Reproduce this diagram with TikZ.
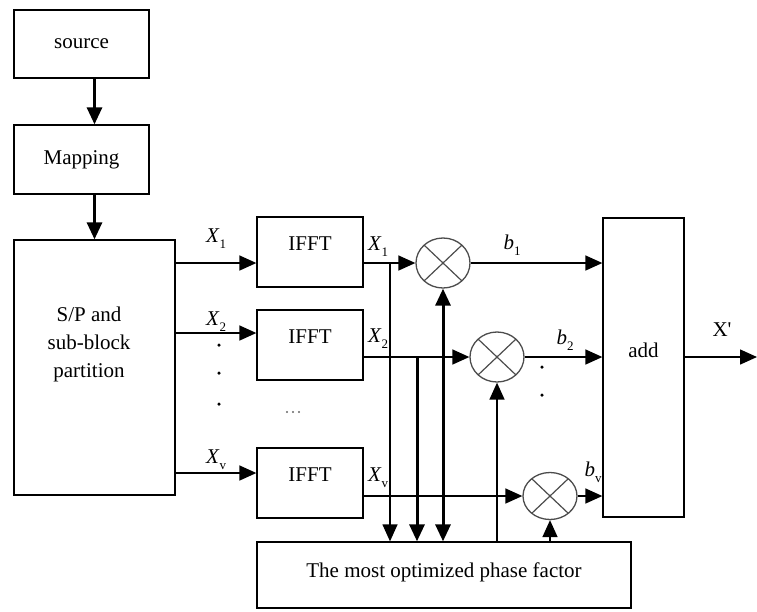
\documentclass[tikz,border=0pt]{standalone}
\usepackage{fontspec}
\setmainfont{Liberation Serif}
\usetikzlibrary{arrows.meta,shapes.geometric,positioning}
\tikzset{
  >={Triangle[length=17pt,width=15pt]},
  block/.style={draw, line width=1.3pt, rectangle, inner sep=0pt, font=\fontsize{21}{27}\selectfont},
  ifft/.style={block, minimum width=106pt, minimum height=70pt, text height=14pt, text depth=18pt},
  mult/.style={draw=black!70, line width=1.3pt, ellipse, inner sep=0pt,
    minimum width=54pt, minimum height=50pt,
    path picture={\draw[black!70, line width=1.2pt]
      ([shift={(-19pt,-18pt)}]path picture bounding box.center) -- ([shift={(19pt,18pt)}]path picture bounding box.center)
      ([shift={(-19pt,18pt)}]path picture bounding box.center) -- ([shift={(19pt,-18pt)}]path picture bounding box.center);}},
  wire/.style={line width=1.5pt},
  bus/.style={line width=3pt},
  lab/.style={inner sep=0pt, font=\fontsize{21}{28}\selectfont},
  dotmark/.style={circle, fill, inner sep=0pt, minimum size=3.5pt},
}
\newcommand{\varlab}[2]{\textit{#1}\raisebox{-0.6ex}{\fontsize{13}{15}\selectfont #2}}

\begin{document}
\begin{tikzpicture}[x=1pt, y=-1pt]
  \useasboundingbox (0,0) rectangle (757,611);

  % left column
  \node[block, minimum width=135pt, minimum height=68pt] (source)  at (81.5,44)   {source};
  \node[block, minimum width=135pt, minimum height=69pt] (mapping) at (81.5,159.5) {Mapping};
  \node[block, minimum width=161pt, minimum height=255pt] (sp) at (94.5,367.5) {};
  \node[lab, align=center] (sptext) at (89,344) {S/P and\\sub-block\\partition};

  % IFFT blocks
  \node[ifft] (ifft1) at (310,252) {IFFT};
  \node[ifft] (ifft2) at (310,345) {IFFT};
  \node[ifft] (ifftv) at (310,483) {IFFT};

  % multipliers, adder, phase factor
  \node[mult] (mult1) at (443,263) {};
  \node[mult] (mult2) at (497,357) {};
  \node[mult, minimum height=47pt] (mult3) at (550,496) {};
  \node[block, minimum width=81pt, minimum height=299pt, text height=14pt, text depth=34pt] (add) at (643.5,367.5) {add};
  \node[block, minimum width=374pt, minimum height=66pt, text height=14pt, text depth=10pt] (phase) at (444,575) {The most optimized phase factor};

  % rows and taps
  \coordinate (r1) at (0,263);
  \coordinate (r2) at (0,333);
  \coordinate (r3) at (0,473);
  \coordinate (tap1) at (390,0);
  \coordinate (tap2) at (417,0);
  \coordinate (xout) at (757,357);

  \draw[bus,->] (source.south -| sp.north) -- (mapping.north -| sp.north);
  \draw[bus,->] (mapping.south -| sp.north) -- (sp.north);

  \draw[wire,->] (sp.east |- r1) -- (ifft1.west |- r1);
  \draw[wire,->] (sp.east |- r2) -- (ifft2.west |- r2);
  \draw[wire,->] (sp.east |- r3) -- (ifftv.west |- r3);

  \draw[wire,->] (ifft1.east |- mult1) -- (mult1);
  \draw[wire,->] (ifft2.east |- mult2) -- (mult2);
  \draw[wire,->] (ifftv.east |- mult3) -- (mult3);

  \draw[line width=1.3pt,->] (tap1 |- mult1) -- (tap1 |- phase.north);
  \draw[bus,->] (tap2 |- mult2) -- (tap2 |- phase.north);
  \draw[bus,<->] (mult1) -- (mult1 |- phase.north);
  \draw[wire,->] (mult2 |- phase.north) -- (mult2);
  \draw[wire,->] (mult3 |- phase.north) -- (mult3);

  \draw[wire,->] (mult1) -- (mult1 -| add.west);
  \draw[wire,->] (mult2) -- (mult2 -| add.west);
  \draw[wire,->] (mult3) -- (mult3 -| add.west);
  \draw[wire,->] (add.east |- xout) -- (xout);

  % labels
  \node[lab] (lx1)  at (216,239) {\varlab{X}{1}};
  \node[lab] (lx2)  at (216,322) {\varlab{X}{2}};
  \node[lab] (lxv)  at (216,460) {\varlab{X}{v}};
  \node[lab] (ox1)  at (378,247) {\varlab{X}{1}};
  \node[lab] (ox2)  at (378,339) {\varlab{X}{2}};
  \node[lab] (oxv)  at (378,478) {\varlab{X}{v}};
  \node[lab] (lb1)  at (512,245) {\varlab{b}{1}};
  \node[lab] (lb2)  at (565,340) {\varlab{b}{2}};
  \node[lab] (lbv)  at (593,472) {\varlab{b}{v}};
  \node[lab] (lxo)  at (722,330) {X\textquotesingle};

  % ellipsis marks
  \foreach \y [count=\i] in {345,373,404}
    \node[dotmark] (ldot\i) at (219,\y) {};
  \foreach \y [count=\i] in {367,395}
    \node[dotmark] (rdot\i) at (542,\y) {};
  \foreach \x [count=\i] in {287,293,299}
    \node[dotmark, minimum size=2.2pt, fill=black!60] (mdot\i) at (\x,412) {};
\end{tikzpicture}
\end{document}
